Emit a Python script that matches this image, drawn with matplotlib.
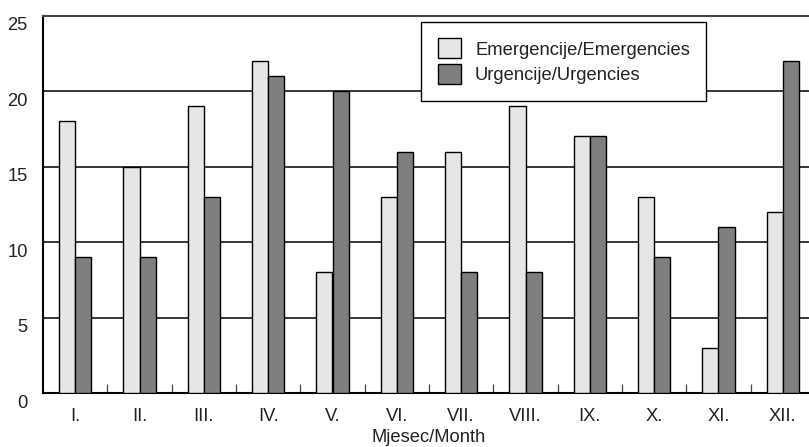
import matplotlib
matplotlib.use("Agg")
import matplotlib.pyplot as plt
import matplotlib.transforms as mtransforms
import numpy as np

months = ["I.", "II.", "III.", "IV.", "V.", "VI.", "VII.", "VIII.", "IX.", "X.", "XI.", "XII."]
emergencies = [18, 15, 19, 22, 8, 13, 16, 19, 17, 13, 3, 12]
urgencies = [9, 9, 13, 21, 20, 16, 8, 8, 17, 9, 11, 22]
yticks = [0, 5, 10, 15, 20, 25]
label_em = "Emergencije/Emergencies"
label_ur = "Urgencije/Urgencies"
xlabel = "Mjesec/Month"

plt.rcParams['font.family'] = ['Liberation Sans', 'DejaVu Sans']

W, H = 809, 447
fig = plt.figure(figsize=(W / 100, H / 100), dpi=100)
left, right, bottom, top = 43, 815, 393, 15.7
ax = fig.add_axes([left / W, (H - bottom) / H, (right - left) / W, (bottom - top) / H])

x = np.arange(len(months))
bw = 0.25
ax.bar(x - bw / 2, emergencies, bw, color="#e6e6e6", edgecolor="black", linewidth=1.0, zorder=3, label=label_em)
ax.bar(x + bw / 2, urgencies, bw, color="#7f7f7f", edgecolor="black", linewidth=1.0, zorder=3, label=label_ur)

ax.set_xlim(-0.5, len(months) - 0.5)
ax.set_ylim(0, 25)
for v in yticks[1:-1]:
    ax.axhline(v, color="black", linewidth=1.1, zorder=1)

fs = 13.2
ax.set_yticks(yticks)
ax.set_yticklabels([str(v) for v in yticks], fontsize=fs, color="#222222")
ax.tick_params(axis="y", length=0, pad=11)
offset = mtransforms.ScaledTranslation(0, -8 / 100, fig.dpi_scale_trans)
for lab in ax.get_yticklabels():
    lab.set_transform(lab.get_transform() + offset)

ax.set_xticks(x)
ax.set_xticklabels(months, fontsize=fs, color="#222222")
ax.tick_params(axis="x", which="major", length=0, pad=11)
ax.set_xticks(np.arange(0.5, len(months) - 1, 1.0), minor=True)
ax.tick_params(axis="x", which="minor", direction="in", length=6.5, width=0.9, color="#444444")

ax.set_xlabel(xlabel, fontsize=fs, color="#222222", labelpad=3)

ax.spines["right"].set_visible(False)
for s in ["left", "bottom"]:
    ax.spines[s].set_linewidth(1.5)
    ax.spines[s].set_color("black")
ax.spines["top"].set_linewidth(1.5)
ax.spines["top"].set_color("#444444")

leg = ax.legend(loc="upper left", bbox_to_anchor=((421 - left) / (right - left), (bottom - 22) / (bottom - top)),
                fontsize=fs, frameon=True, fancybox=False, framealpha=1, edgecolor="black",
                handlelength=1.3, handleheight=1.3, borderpad=0.9, labelspacing=0.3,
                handletextpad=0.75, borderaxespad=0)
leg.get_frame().set_linewidth(1.0)
leg.set_zorder(5)
for t in leg.get_texts():
    t.set_color("#222222")

fig.savefig("out.png", dpi=100)
